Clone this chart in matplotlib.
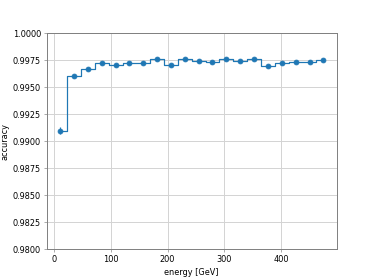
import numpy as np
import matplotlib
matplotlib.use("Agg")
import matplotlib.pyplot as plt

# energy bin centres and accuracy per bin
energy = [10.5, 35, 59.5, 84, 108.5, 133, 157, 181.5, 206, 230,
          255, 279, 303.5, 328, 352.5, 377, 401, 426, 450, 474.5]
accuracy = [0.99098, 0.99600, 0.99668, 0.99724, 0.99702, 0.99724, 0.99728, 0.99764, 0.99702, 0.99760,
            0.99740, 0.99730, 0.99758, 0.99740, 0.99760, 0.99696, 0.99721, 0.99730, 0.99733, 0.99752]
acc_err = [0.00035, 0.0001, 0.0001, 0.0001, 0.0001, 0.0001, 0.0001, 0.0001, 0.0001, 0.0001,
           0.0001, 0.0001, 0.0001, 0.0001, 0.0001, 0.0001, 0.0001, 0.0001, 0.0001, 0.0001]

fig, ax = plt.subplots(figsize=(6.4, 4.8), dpi=374 / 6.4)

ax.plot(energy, accuracy, drawstyle='steps-mid', color='C0', lw=1.5)
ax.errorbar(energy, accuracy, yerr=acc_err, fmt='o', color='C0', ms=6, capsize=0)

ax.set_ylim(0.98, 1.0)
ax.set_yticks(np.arange(0.98, 1.0001, 0.0025))
ax.yaxis.set_major_formatter(matplotlib.ticker.FormatStrFormatter('%.4f'))
ax.set_xlabel('energy [GeV]')
ax.set_ylabel('accuracy')
ax.grid(True, color='#d3d3d3', lw=1.2)
ax.set_axisbelow(True)
for s in ax.spines.values():
    s.set_color('#808080')
    s.set_linewidth(1.2)
ax.tick_params(color='#808080')

plt.savefig('out.png')
